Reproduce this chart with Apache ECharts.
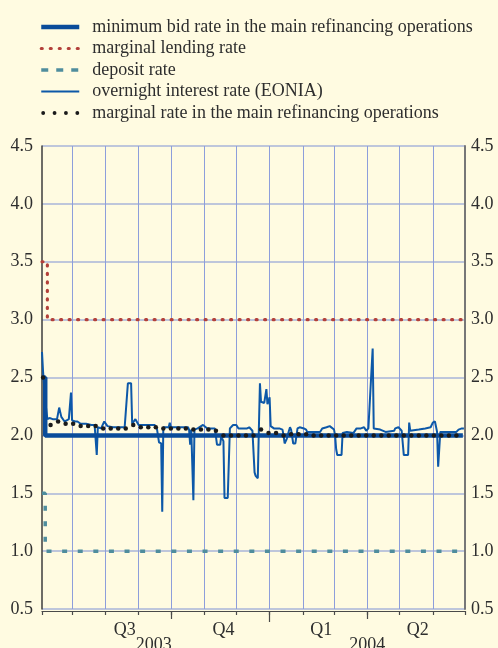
<!DOCTYPE html>
<html>
<head>
<meta charset="utf-8">
<script src="https://cdn.jsdelivr.net/npm/echarts@6/dist/echarts.min.js"></script>
<style>
html,body{margin:0;padding:0;background:#fffbe1;}
#chart{width:498px;height:648px;}
</style>
</head>
<body>
<div id="chart"></div>
<script>
// ---------- DATA ----------
const seriesNames = [
  'minimum bid rate in the main refinancing operations',
  'marginal lending rate',
  'deposit rate',
  'overnight interest rate (EONIA)',
  'marginal rate in the main refinancing operations'
];
const axisStart = '2003-06-03';
const axisEnd = '2004-07-01';
const yTicks = [0.5, 1.0, 1.5, 2.0, 2.5, 3.0, 3.5, 4.0, 4.5];
const quarterLabelDates = ['2003-08-19', '2003-11-19', '2004-02-18', '2004-05-18'];
const quarterLabels = ['Q3', 'Q4', 'Q1', 'Q2'];
const yearLabelDates = ['2003-09-15', '2004-04-01'];
const yearLabels = ['2003', '2004'];
const quarterTickDates = ['2003-10-01', '2004-04-01'];
const yearTickDates = ['2004-01-01'];

const minBidDates = ['2003-06-03', '2003-06-06', '2004-06-29'];
const minBidValues = [2.5, 2.0, 2.0];
const lendingDates = ['2003-06-03', '2003-06-08', '2004-07-01'];
const lendingValues = [3.5, 3.0, 3.0];
const depositDates = ['2003-06-03', '2003-06-06', '2004-07-01'];
const depositValues = [1.5, 1.0, 1.0];

const eoniaDates = [
 '2003-06-03','2003-06-04','2003-06-06','2003-06-08','2003-06-10','2003-06-13','2003-06-17','2003-06-18','2003-06-19','2003-06-21',
 '2003-06-24','2003-06-26','2003-06-28','2003-06-30','2003-07-01','2003-07-04','2003-07-06','2003-07-09','2003-07-14','2003-07-19',
 '2003-07-22','2003-07-24','2003-07-25','2003-07-28','2003-07-31','2003-08-03','2003-08-08','2003-08-14','2003-08-19','2003-08-20',
 '2003-08-22','2003-08-25','2003-08-26','2003-08-29','2003-09-01','2003-09-05','2003-09-10','2003-09-16','2003-09-18','2003-09-19',
 '2003-09-20','2003-09-22','2003-09-23','2003-09-24','2003-09-27','2003-09-29','2003-09-30','2003-10-01','2003-10-07','2003-10-13',
 '2003-10-17','2003-10-18','2003-10-19','2003-10-20','2003-10-22','2003-10-23','2003-10-26','2003-10-31','2003-11-01','2003-11-04',
 '2003-11-11','2003-11-12','2003-11-13','2003-11-16','2003-11-17','2003-11-18','2003-11-19','2003-11-20','2003-11-23','2003-11-25',
 '2003-11-28','2003-12-01','2003-12-03','2003-12-07','2003-12-11','2003-12-13','2003-12-16','2003-12-17','2003-12-18','2003-12-19',
 '2003-12-21','2003-12-22','2003-12-23','2003-12-24','2003-12-27','2003-12-29','2003-12-30','2004-01-01','2004-01-02','2004-01-05',
 '2004-01-10','2004-01-13','2004-01-14','2004-01-15','2004-01-17','2004-01-19','2004-01-20','2004-01-21','2004-01-22','2004-01-23',
 '2004-01-25','2004-01-27','2004-01-29','2004-02-02','2004-02-04','2004-02-05','2004-02-10','2004-02-17','2004-02-19','2004-02-23',
 '2004-02-26','2004-03-01','2004-03-02','2004-03-03','2004-03-04','2004-03-08','2004-03-09','2004-03-13','2004-03-19','2004-03-22',
 '2004-03-26','2004-03-29','2004-03-31','2004-04-02','2004-04-06','2004-04-07','2004-04-13','2004-04-18','2004-04-26','2004-04-27',
 '2004-04-30','2004-05-03','2004-05-05','2004-05-09','2004-05-10','2004-05-11','2004-05-19','2004-05-25','2004-05-30','2004-06-01',
 '2004-06-03','2004-06-05','2004-06-06','2004-06-08','2004-06-15','2004-06-23','2004-06-25','2004-06-28','2004-06-30'
];
const eoniaValues = [
 2.72, 2.55, 2.30, 2.14, 2.15, 2.14, 2.14, 2.15, 2.24, 2.16,
 2.12, 2.13, 2.14, 2.37, 2.13, 2.12, 2.12, 2.10, 2.10, 2.09,
 2.09, 1.83, 2.07, 2.06, 2.12, 2.08, 2.07, 2.07, 2.07, 2.08,
 2.45, 2.45, 2.10, 2.14, 2.09, 2.09, 2.09, 2.09, 2.06, 2.06,
 1.94, 1.93, 1.34, 2.07, 2.07, 2.07, 2.11, 2.07, 2.07, 2.07,
 2.07, 2.05, 1.92, 2.05, 1.44, 2.05, 2.06, 2.09, 2.08, 2.06,
 2.06, 2.05, 1.92, 1.92, 2.00, 1.97, 1.95, 1.46, 1.46, 2.06,
 2.09, 2.09, 2.06, 2.06, 2.06, 2.07, 2.04, 2.03, 1.68, 1.65,
 1.63, 2.06, 2.45, 2.29, 2.28, 2.40, 2.27, 2.33, 2.08, 2.06,
 2.06, 2.05, 2.00, 1.93, 1.97, 2.04, 2.07, 2.05, 2.04, 1.93,
 1.93, 2.06, 2.07, 2.06, 2.05, 2.03, 2.03, 2.03, 2.06, 2.07,
 2.08, 2.05, 2.00, 1.88, 1.83, 1.83, 2.02, 2.03, 2.02, 2.06,
 2.06, 2.07, 2.04, 2.06, 2.75, 2.06, 2.05, 2.03, 2.04, 2.06,
 2.07, 2.04, 1.83, 1.83, 2.11, 2.04, 2.05, 2.06, 2.07, 2.11,
 2.12, 2.03, 1.73, 2.03, 2.03, 2.03, 2.05, 2.06, 2.06
];

const mroMarginalDates = [
 '2003-06-04','2003-06-11','2003-06-18','2003-06-25','2003-07-02','2003-07-09','2003-07-16','2003-07-23','2003-07-30','2003-08-06',
 '2003-08-13','2003-08-20','2003-08-27','2003-09-03','2003-09-10','2003-09-17','2003-09-24','2003-10-01','2003-10-08','2003-10-15',
 '2003-10-22','2003-10-29','2003-11-05','2003-11-12','2003-11-19','2003-11-26','2003-12-03','2003-12-10','2003-12-17','2003-12-24',
 '2003-12-31','2004-01-07','2004-01-14','2004-01-21','2004-01-28','2004-02-04','2004-02-11','2004-02-18','2004-02-25','2004-03-03',
 '2004-03-10','2004-03-17','2004-03-24','2004-03-31','2004-04-07','2004-04-14','2004-04-21','2004-04-28','2004-05-05','2004-05-12',
 '2004-05-19','2004-05-26','2004-06-02','2004-06-09','2004-06-16','2004-06-23'
];
const mroMarginalValues = [
 2.50, 2.09, 2.12, 2.10, 2.10, 2.08, 2.08, 2.08, 2.06, 2.06,
 2.06, 2.06, 2.09, 2.07, 2.07, 2.07, 2.06, 2.06, 2.06, 2.06,
 2.05, 2.05, 2.05, 2.04, 2.00, 2.00, 2.00, 2.00, 2.00, 2.05,
 2.02, 2.02, 2.00, 2.01, 2.01, 2.01, 2.00, 2.00, 2.00, 2.00,
 2.00, 2.00, 2.00, 2.00, 2.00, 2.00, 2.00, 2.00, 2.00, 2.00,
 2.00, 2.00, 2.00, 2.00, 2.00, 2.00
];

// ---------- BUILD ----------
const days = [];
for (let t = Date.parse(axisStart + 'T00:00:00Z'); t <= Date.parse(axisEnd + 'T00:00:00Z'); t += 86400000) {
  days.push(new Date(t).toISOString().slice(0, 10));
}
const pairs = (d, v) => d.map((x, i) => [x, v[i]]);
const FONT = 'Liberation Serif';
const TXT = '#2e2e2e';
const FS = 18;

const baseX = {
  type: 'category', data: days, boundaryGap: false, position: 'bottom', offset: 2,
  axisLine: { show: false }, splitLine: { show: false }, axisLabel: { show: false },
  axisTick: { show: false }
};

const chart = echarts.init(document.getElementById('chart'), null, { renderer: 'canvas' });
chart.setOption({
  backgroundColor: '#fffbe1',
  animation: false,
  grid: { left: 42, right: 33, top: 146, bottom: 39, containLabel: false, outerBoundsMode: 'none' },
  legend: {
    orient: 'vertical', left: 39, top: 18, padding: 0,
    itemWidth: 38, itemHeight: 10, itemGap: 3.5,
    textStyle: { fontFamily: FONT, fontSize: FS, color: TXT, lineHeight: 17.5, padding: [0, 0, 0, 8] },
    data: [
      { name: seriesNames[0], itemStyle: { opacity: 0 }, lineStyle: { width: 4.5 } },
      { name: seriesNames[1], itemStyle: { opacity: 0 }, lineStyle: { width: 3.2, type: [1, 8], cap: 'round' } },
      { name: seriesNames[2], itemStyle: { opacity: 0 }, lineStyle: { width: 3.5, type: [7, 8] } },
      { name: seriesNames[3], itemStyle: { opacity: 0 }, lineStyle: { width: 2 } },
      { name: seriesNames[4],
        icon: 'path://M0,2A2,2,0,1,1,4,2A2,2,0,1,1,0,2ZM11.8,2A2,2,0,1,1,15.8,2A2,2,0,1,1,11.8,2ZM23.6,2A2,2,0,1,1,27.6,2A2,2,0,1,1,23.6,2ZM35.4,2A2,2,0,1,1,39.4,2A2,2,0,1,1,35.4,2Z' }
    ]
  },
  xAxis: [
    Object.assign({}, baseX, {
      axisLine: { show: true, lineStyle: { color: '#4a4a4a', width: 1.2 } },
      axisTick: { show: true, length: 4, interval: (i, v) => i === 0 || v.slice(8) === '01', lineStyle: { color: '#4a4a4a', width: 1.2 } },
      splitLine: { show: true, interval: (i, v) => v.slice(8) === '01', lineStyle: { color: '#8d9edb', width: 1 } },
      axisLabel: {
        show: true, margin: 10, interval: (i, v) => quarterLabelDates.indexOf(v) >= 0,
        formatter: v => quarterLabels[quarterLabelDates.indexOf(v)] || '',
        fontFamily: FONT, fontSize: FS, color: TXT
      }
    }),
    Object.assign({}, baseX, {
      axisTick: { show: true, length: 8, interval: (i, v) => quarterTickDates.indexOf(v) >= 0, lineStyle: { color: '#4a4a4a', width: 1.2 } }
    }),
    Object.assign({}, baseX, {
      axisTick: { show: true, length: 11, interval: (i, v) => yearTickDates.indexOf(v) >= 0, lineStyle: { color: '#4a4a4a', width: 1.2 } },
      axisLabel: {
        show: true, margin: 25, interval: (i, v) => yearLabelDates.indexOf(v) >= 0,
        formatter: v => yearLabels[yearLabelDates.indexOf(v)] || '',
        fontFamily: FONT, fontSize: FS, color: TXT
      }
    })
  ],
  yAxis: [
    {
      type: 'value', position: 'left', min: yTicks[0], max: yTicks[yTicks.length - 1], interval: 0.5,
      axisLine: { show: true, lineStyle: { color: '#3c3c3c', width: 1.5 } },
      axisTick: { show: false },
      splitLine: { show: true, lineStyle: { color: '#a9b5d9', width: 1.5 } },
      axisLabel: { margin: 9, formatter: v => v.toFixed(1), fontFamily: FONT, fontSize: FS, color: TXT }
    },
    {
      type: 'value', position: 'right', min: yTicks[0], max: yTicks[yTicks.length - 1], interval: 0.5,
      axisLine: { show: true, lineStyle: { color: '#777777', width: 2 } },
      axisTick: { show: false },
      splitLine: { show: false },
      axisLabel: { margin: 6, formatter: v => v.toFixed(1), fontFamily: FONT, fontSize: FS, color: TXT }
    }
  ],
  series: [
    {
      name: seriesNames[2], type: 'line', step: 'end', symbol: 'none', z: 2,
      data: pairs(depositDates, depositValues),
      lineStyle: { color: '#4f8d9d', width: 3.5, type: [5, 10.6], cap: 'butt' },
      itemStyle: { color: '#4f8d9d' }
    },
    {
      name: seriesNames[1], type: 'line', step: 'end', symbol: 'none', z: 2,
      data: pairs(lendingDates, lendingValues),
      lineStyle: { color: '#b3403a', width: 3.2, type: [1, 7.5], cap: 'round' },
      itemStyle: { color: '#b3403a' }
    },
    {
      name: seriesNames[3], type: 'line', symbol: 'none', z: 3,
      data: pairs(eoniaDates, eoniaValues),
      lineStyle: { color: '#0d58a8', width: 2 },
      itemStyle: { color: '#0d58a8' }
    },
    {
      name: seriesNames[0], type: 'line', step: 'end', symbol: 'none', z: 4,
      data: pairs(minBidDates, minBidValues),
      lineStyle: { color: '#0a4c9a', width: 4.5 },
      itemStyle: { color: '#0a4c9a' }
    },
    {
      name: seriesNames[4], type: 'line', symbol: 'circle', symbolSize: 4.5, showSymbol: true, showAllSymbol: true, z: 5,
      data: pairs(mroMarginalDates, mroMarginalValues),
      lineStyle: { width: 0, opacity: 0 },
      itemStyle: { color: '#1a1a1a' }
    }
  ]
});
</script>
</body>
</html>
